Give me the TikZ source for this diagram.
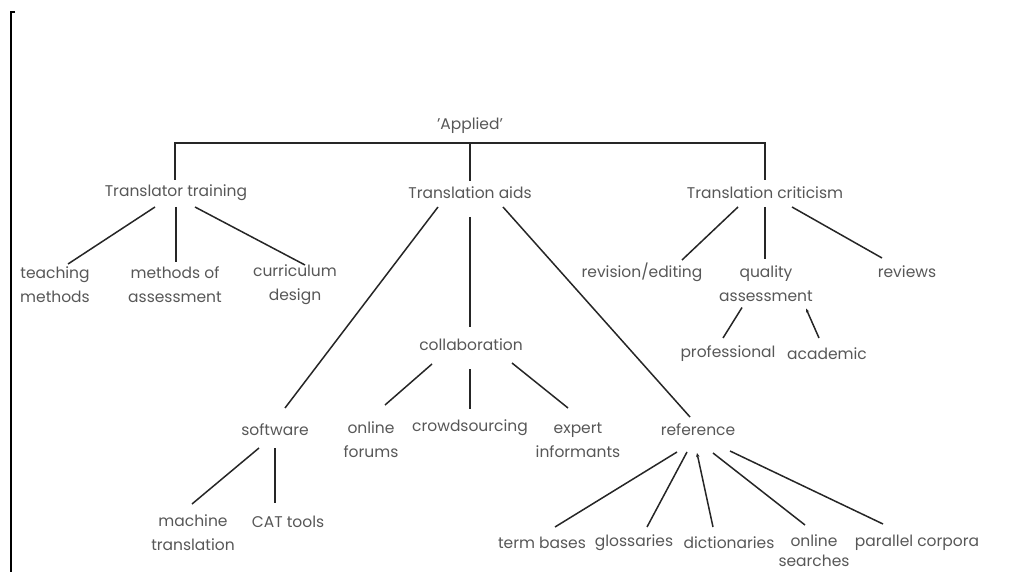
\documentclass[tikz,border=0pt]{standalone}
\usepackage{fontspec}
\setmainfont{Poppins}
\usetikzlibrary{calc,arrows.meta}
\tikzset{
  lbl/.style={font=\fontsize{15.5}{24}\selectfont, text=black!66, align=center, inner sep=0pt},
  tight/.style={font=\fontsize{15.5}{20}\selectfont},
  link/.style={draw=black!85, line width=1.5pt},
  tip/.style={{Stealth[length=4pt,width=3.5pt]}-}
}
\begin{document}
\begin{tikzpicture}[x=1pt,y=-1pt]
\useasboundingbox (0,0) rectangle (1009,572);
% page edge on the left
\draw[line width=2pt] (15,12) -- (11,12) -- (11,572);

% top level
\node[lbl] (ap) at (470,126) {'Applied'};
\node[lbl] (tt) at (176,193) {Translator training};
\node[lbl] (ta) at (470,193) {Translation aids};
\node[lbl] (tc) at (765,193) {Translation criticism};

% translator training
\node[lbl] (tm) at (55,285) {teaching\\methods};
\node[lbl] (ma) at (175,285) {methods of\\assessment};
\node[lbl] (cd) at (295,285) {curriculum\\design};

% translation aids
\node[lbl] (co) at (471,345) {collaboration};
\node[lbl] (sw) at (275,430) {software};
\node[lbl] (re) at (698,430) {reference};
\node[lbl] (of) at (371,440) {online\\forums};
\node[lbl] (cs) at (470,428) {crowdsourcing};
\node[lbl] (ei) at (578,440) {expert\\informants};
\node[lbl] (mt) at (193,533) {machine\\translation};
\node[lbl] (ct) at (288,522) {CAT tools};
\node[lbl] (tb) at (542,543) {term bases};
\node[lbl] (gl) at (634,543) {glossaries};
\node[lbl] (di) at (729,543) {dictionaries};
\node[lbl,tight] (os) at (814,551) {online\\searches};
\node[lbl] (pc) at (917,543) {parallel corpora};

% translation criticism
\node[lbl] (rv) at (642,272) {revision/editing};
\node[lbl] (qa) at (766,283.5) {quality\\assessment};
\node[lbl] (rw) at (907,272) {reviews};
\node[lbl] (pr) at (728,354) {professional};
\node[lbl] (ac) at (827,354) {academic};

% bracket under 'Applied'
\coordinate (bar) at ($(ap.center)+(0,17)$);
\draw[link] ($(tt.center)+(-1,-13)$) |- (bar) -| ($(tc.center)+(0,-13)$);
\draw[link] (bar) -- ($(ta.center)+(0,-12)$);

% translator training branches
\draw[link] ($(tt.center)+(-21,14)$) -- ($(tm.center)+(13,-21)$);
\draw[link] ($(tt.center)+(0,14)$) -- ($(ma.center)+(1,-23)$);
\draw[link] ($(tt.center)+(19,14)$) -- ($(cd.center)+(10,-20)$);

% translation aids branches
\draw[link] ($(ta.center)+(-32,14)$) -- ($(sw.center)+(10,-22)$);
\draw[link] ($(ta.center)+(0,24)$) -- ($(co.center)+(-1,-18)$);
\draw[link] ($(ta.center)+(33,14)$) -- ($(re.center)+(-8,-13)$);

\draw[link] ($(co.center)+(-39,19)$) -- ($(of.center)+(14,-35)$);
\draw[link] ($(co.center)+(-1,24)$) -- ($(cs.center)+(0,-19)$);
\draw[link] ($(co.center)+(41,18)$) -- ($(ei.center)+(-10,-32)$);

\draw[link] ($(sw.center)+(-16,18)$) -- ($(mt.center)+(-1,-29)$);
\draw[link] ($(sw.center)+(0,18)$) -- ($(ct.center)+(-13,-19)$);

\draw[link] ($(re.center)+(-21,22)$) -- ($(tb.center)+(13,-16)$);
\draw[link] ($(re.center)+(-11,22)$) -- ($(gl.center)+(13,-16)$);
\draw[link,tip] ($(re.center)+(-1,23)$) -- ($(di.center)+(-16,-16)$);
\draw[link] ($(re.center)+(15,23)$) -- ($(os.center)+(-9,-26)$);
\draw[link] ($(re.center)+(32,21)$) -- ($(pc.center)+(-34,-19)$);

% translation criticism branches
\draw[link] ($(tc.center)+(-27,14)$) -- ($(rv.center)+(40,-12)$);
\draw[link] ($(tc.center)+(0,14)$) -- ($(qa.center)+(-1,-25)$);
\draw[link] ($(tc.center)+(27,14)$) -- ($(rw.center)+(-25,-14)$);

\draw[link] ($(qa.center)+(-24,24)$) -- ($(pr.center)+(-5,-16)$);
\draw[link,tip] ($(qa.center)+(40,25)$) -- ($(ac.center)+(-8,-16)$);
\end{tikzpicture}
\end{document}
